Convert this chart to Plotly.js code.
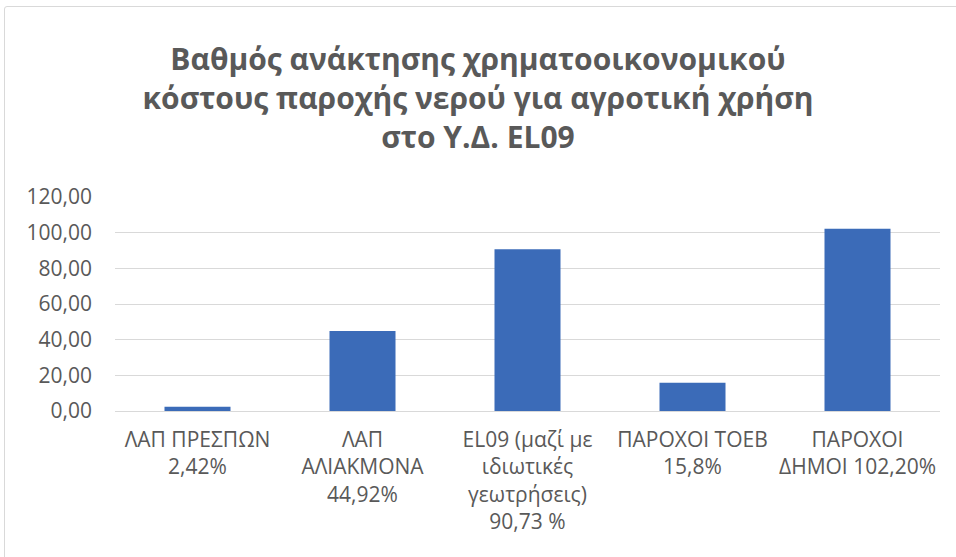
<!DOCTYPE html>
<html>
<head>
<meta charset="utf-8">
<script src="https://cdn.plot.ly/plotly-3.0.1.min.js"></script>
<style>
  html, body { margin: 0; padding: 0; background: #ffffff; overflow: hidden; }
  #frame { position: absolute; left: 4px; top: 6px; width: 970px; height: 570px; border: 1.5px solid #d9d9d9; border-radius: 3px; box-sizing: border-box; }
  #chart { position: absolute; left: 0; top: 0; width: 956px; height: 557px; }
</style>
</head>
<body>
<div id="frame"></div>
<div id="chart"></div>
<script>
const titleText = "Βαθμός ανάκτησης χρηματοοικονομικού<br>κόστους παροχής νερού για αγροτική χρήση<br>στο Υ.Δ. EL09";
const categories = [
  "ΛΑΠ ΠΡΕΣΠΩΝ<br>2,42%",
  "ΛΑΠ<br>ΑΛΙΑΚΜΟΝΑ<br>44,92%",
  "EL09 (μαζί με<br>ιδιωτικές<br>γεωτρήσεις)<br>90,73 %",
  "ΠΑΡΟΧΟΙ ΤΟΕΒ<br>15,8%",
  "ΠΑΡΟΧΟΙ<br>ΔΗΜΟΙ 102,20%"
];
const values = [2.42, 44.92, 90.73, 15.8, 102.2];
const yTicks = [0, 20, 40, 60, 80, 100, 120];

const gray = "#595959";
const fontFam = "'Open Sans', 'Noto Sans', 'DejaVu Sans', sans-serif";

const trace = {
  type: "bar",
  x: categories,
  y: values,
  marker: { color: "#3B6BB8" },
  hoverinfo: "none"
};

const layout = {
  width: 956,
  height: 557,
  paper_bgcolor: "rgba(0,0,0,0)",
  plot_bgcolor: "rgba(0,0,0,0)",
  separators: ",.",
  margin: { l: 115, r: 16, t: 197, b: 146 },
  bargap: 0.6,
  showlegend: false,
  title: {
    text: titleText,
    font: { family: fontFam, size: 30, color: gray, weight: "bold" },
    x: 0.5,
    xref: "container",
    xanchor: "center",
    y: 1 - 70 / 557,
    yref: "container",
    yanchor: "middle"
  },
  xaxis: {
    type: "category",
    showgrid: false,
    showline: false,
    zeroline: false,
    ticks: "",
    tickangle: 0,
    tickfont: { family: fontFam, size: 21, color: gray },
    ticklabelstandoff: 14
  },
  yaxis: {
    range: [0, 120],
    tickvals: yTicks,
    tickformat: ".2f",
    showgrid: true,
    gridcolor: "#d9d9d9",
    gridwidth: 1,
    zeroline: true,
    zerolinecolor: "#d9d9d9",
    zerolinewidth: 1,
    showline: false,
    ticks: "",
    tickfont: { family: fontFam, size: 21, color: gray },
    ticklabelstandoff: 22
  }
};

Plotly.newPlot("chart", [trace], layout, { displayModeBar: false, staticPlot: true });
</script>
</body>
</html>
